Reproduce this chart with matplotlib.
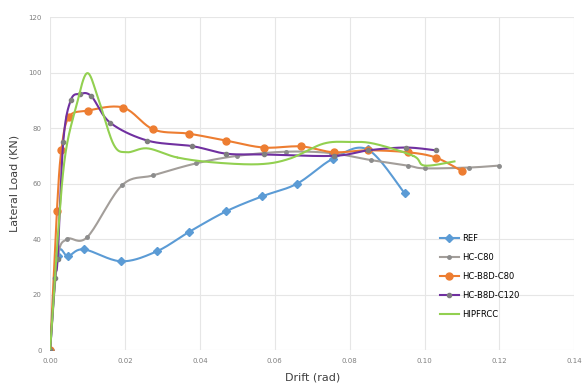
import numpy as np
import matplotlib.pyplot as plt

# drift (rad) / lateral load (kN)
ref_x = [0.0, 0.002, 0.0048, 0.009, 0.019, 0.0285, 0.037, 0.047, 0.0566, 0.066, 0.0756, 0.0848, 0.0947]
ref_y = [0.0, 34.0, 33.8, 36.3, 32.0, 35.6, 42.5, 50.0, 55.4, 60.0, 69.0, 72.3, 56.5]

hc_x = [0.0, 0.002, 0.0045, 0.0099, 0.0192, 0.0276, 0.039, 0.05, 0.063, 0.075, 0.0856, 0.0955, 0.1, 0.112, 0.12]
hc_y = [0.0, 33.0, 40.0, 40.7, 59.4, 63.0, 67.3, 70.0, 71.5, 71.0, 68.5, 66.5, 65.5, 65.8, 66.5]

b8_x = [0.0, 0.0018, 0.003, 0.005, 0.01, 0.0195, 0.0276, 0.037, 0.047, 0.057, 0.067, 0.0757, 0.0848, 0.0955, 0.103, 0.110]
b8_y = [0.0, 50.0, 72.0, 84.0, 86.3, 87.4, 79.5, 78.0, 75.5, 73.0, 73.4, 71.3, 72.0, 71.3, 69.4, 64.5]

c120_x = [0.0, 0.0013, 0.002, 0.0035, 0.0055, 0.008, 0.011, 0.016, 0.026, 0.038, 0.047, 0.057, 0.0757, 0.085, 0.095, 0.103]
c120_y = [0.0, 26.0, 33.0, 75.0, 90.0, 92.3, 91.5, 82.0, 75.5, 73.5, 70.8, 70.5, 70.0, 72.0, 73.0, 72.0]

hip_x = [0.0, 0.002, 0.004, 0.007, 0.0099, 0.013, 0.017, 0.0205, 0.026, 0.034, 0.044, 0.056, 0.064, 0.073, 0.08, 0.0865, 0.097, 0.1, 0.108]
hip_y = [0.0, 40.0, 70.0, 88.0, 99.8, 90.0, 74.0, 71.3, 72.7, 69.4, 67.6, 67.0, 69.0, 74.4, 75.0, 74.4, 70.0, 66.5, 68.0]

X_SCALE = 524 / 0.14   # pixels per rad, so the smoothing works in screen space
Y_SCALE = 333 / 120


def smooth(x, y, n=20):
    # Excel-style smoothed line (Catmull-Rom through the points)
    p = np.column_stack([np.array(x) * X_SCALE, np.array(y) * Y_SCALE])
    p = np.vstack([p[0], p, p[-1]])
    out = []
    for i in range(1, len(p) - 2):
        p0, p1, p2, p3 = p[i - 1], p[i], p[i + 1], p[i + 2]
        t = np.linspace(0, 1, n)[:, None]
        seg = 0.5 * ((2 * p1) + (-p0 + p2) * t + (2 * p0 - 5 * p1 + 4 * p2 - p3) * t ** 2
                     + (-p0 + 3 * p1 - 3 * p2 + p3) * t ** 3)
        out.append(seg)
    s = np.vstack(out)
    return s[:, 0] / X_SCALE, s[:, 1] / Y_SCALE


series = [
    ('REF', ref_x, ref_y, '#5B9BD5', 'D', 4, '#5B9BD5'),
    ('HC-C80', hc_x, hc_y, '#A39E9A', 'o', 2.5, '#8C8C8C'),
    ('HC-B8D-C80', b8_x, b8_y, '#ED7D31', 'o', 5, '#ED7D31'),
    ('HC-B8D-C120', c120_x, c120_y, '#7030A0', 'o', 3, '#7F7F7F'),
    ('HIPFRCC', hip_x, hip_y, '#92D050', None, 0, '#92D050'),
]

fig = plt.figure(figsize=(5.83, 3.89), dpi=100)
ax = fig.add_axes([0.086, 0.1, 0.899, 0.856])

for name, x, y, c, m, ms, mc in series:
    sx, sy = smooth(x, y)
    ax.plot(sx, sy, color=c, linewidth=1.5)
    if m:
        ax.plot(x, y, linestyle='none', marker=m, markersize=ms, color=mc)
    ax.plot([], [], color=c, linewidth=1.5, marker=m, markersize=ms,
            markerfacecolor=mc, markeredgecolor=mc, label=name)

ax.set_xlim(0, 0.14)
ax.set_ylim(0, 120)
ax.set_xticks(np.arange(0, 0.141, 0.02))
ax.set_yticks(np.arange(0, 121, 20))
ax.set_xticklabels(['%.2f' % v for v in np.arange(0, 0.141, 0.02)])
ax.grid(True, color='#E6E6E6', linewidth=0.8)
ax.set_axisbelow(True)
for s in ax.spines.values():
    s.set_visible(False)
ax.tick_params(length=0, labelsize=5, labelcolor='#7F7F7F', pad=6)

ax.set_xlabel('Drift (rad)', fontsize=8, color='#404040', labelpad=6)
ax.set_ylabel('Lateral Load (KN)', fontsize=8, color='#404040', labelpad=6)

ax.legend(loc='upper left', bbox_to_anchor=(0.73, 0.37), frameon=False,
          fontsize=6, handlelength=2.2, labelspacing=1.2, handletextpad=0.4)

fig.savefig('out.png', dpi=100)
